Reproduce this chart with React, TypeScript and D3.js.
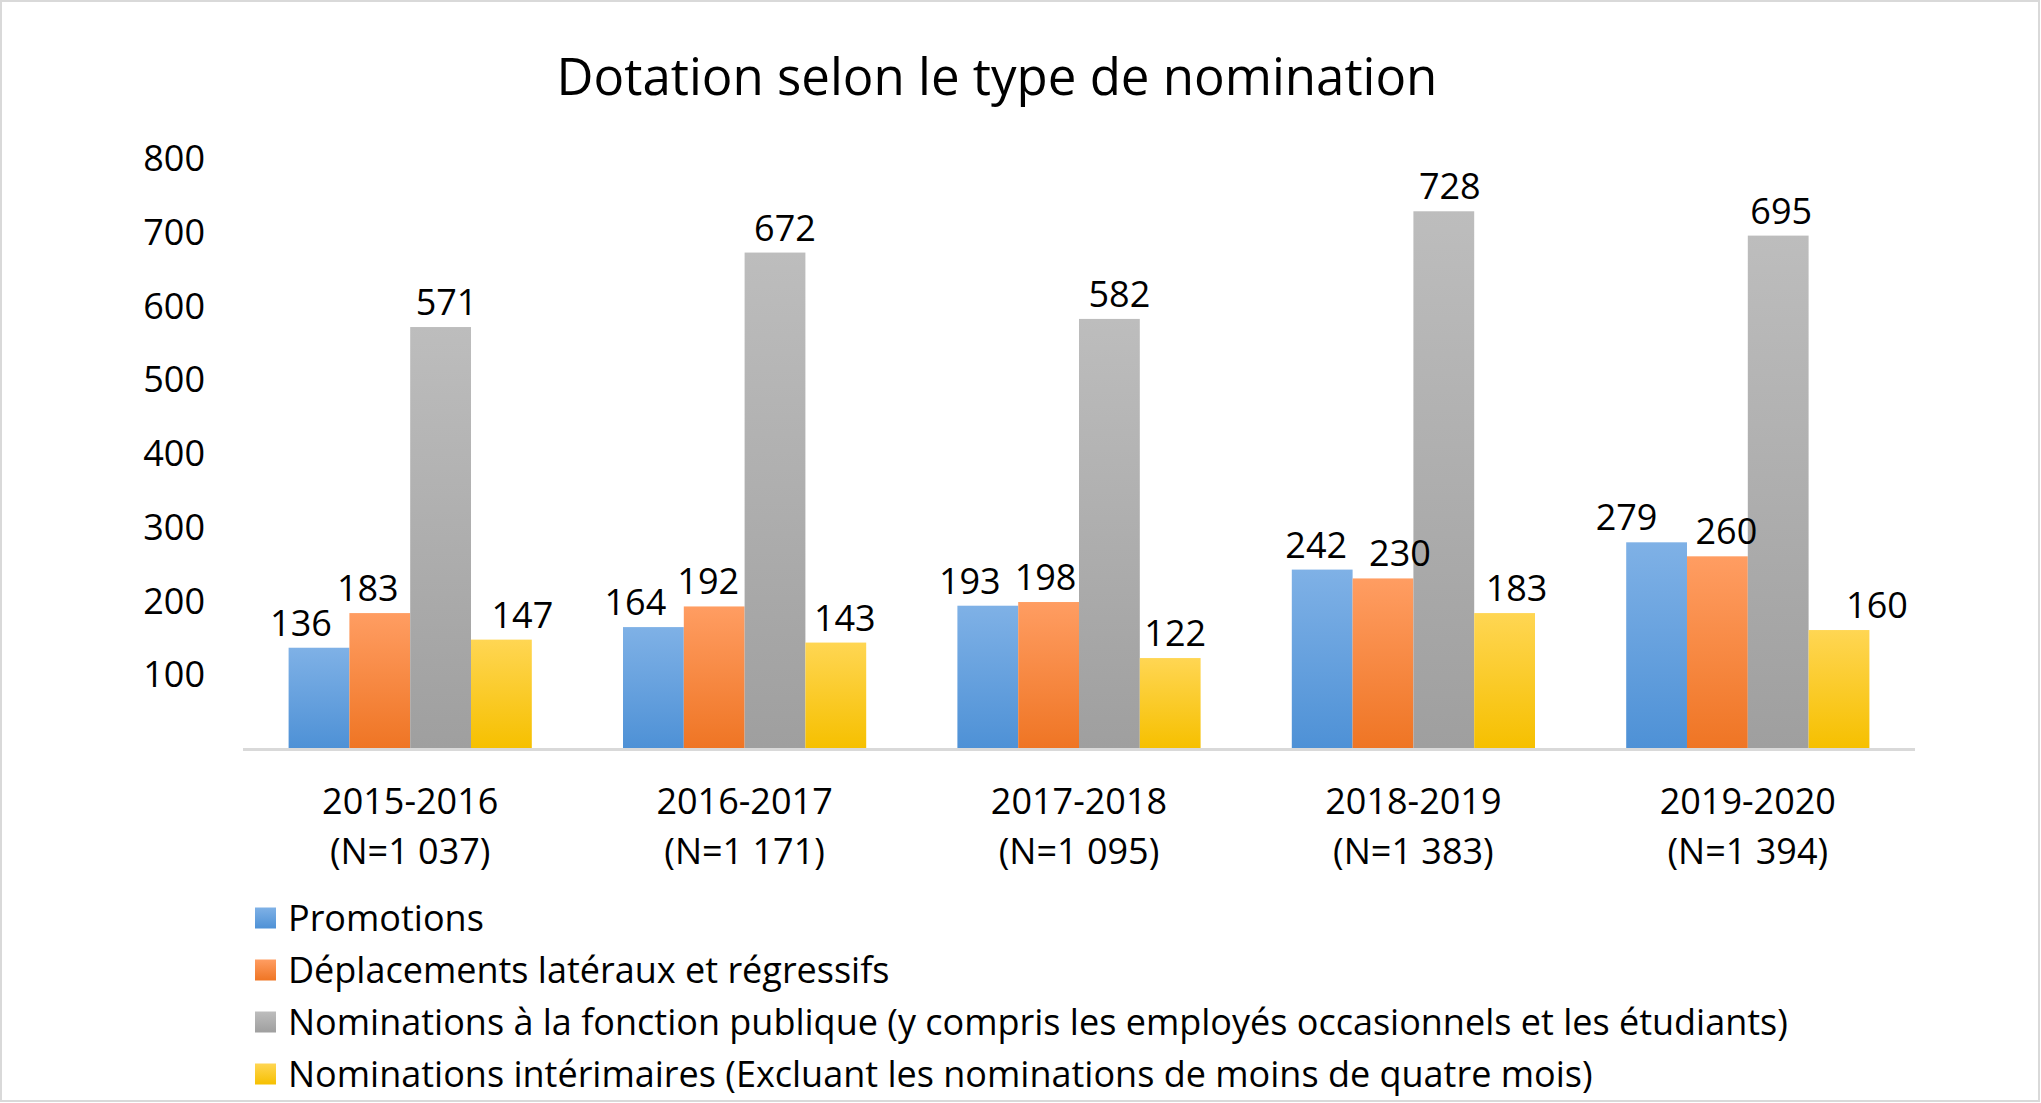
import React from "react";
import * as d3 from "d3";

const W = 2041;
const H = 1103;

const title = "Dotation selon le type de nomination";
const categories = ["2015-2016", "2016-2017", "2017-2018", "2018-2019", "2019-2020"];
const categoryTotals = ["(N=1 037)", "(N=1 171)", "(N=1 095)", "(N=1 383)", "(N=1 394)"];
const seriesNames = [
  "Promotions",
  "Déplacements latéraux et régressifs",
  "Nominations à la fonction publique (y compris les employés occasionnels et les étudiants)",
  "Nominations intérimaires (Excluant les nominations de moins de quatre mois)",
];
const promotions = [136, 164, 193, 242, 279];
const deplacements = [183, 192, 198, 230, 260];
const nominationsFP = [571, 672, 582, 728, 695];
const interimaires = [147, 143, 122, 183, 160];
const yTicks = [100, 200, 300, 400, 500, 600, 700, 800];

// layout-only nudges of data labels (px), per series then per category
const labelNudgeX = [
  [-18, -18, -18, -6, -30],
  [-12, -6, -3, 17, 9],
  [6, 10, 10, 6, 3],
  [21, 9, 5, 12, 38],
];

const gradients = [
  { top: "#7fb1e6", bottom: "#4e91d6" },
  { top: "#ff9d62", bottom: "#ef7524" },
  { top: "#bdbdbd", bottom: "#9f9f9f" },
  { top: "#ffd653", bottom: "#f6c000" },
];

const FONT = "'Open Sans', 'Segoe UI', sans-serif";
const FS = 36;

export default function App() {
  const series = [promotions, deplacements, nominationsFP, interimaires];
  const x0 = d3.scaleBand<string>().domain(categories).range([243, 1915]).paddingInner(0).paddingOuter(0);
  const bw = x0.bandwidth() / 5.5;
  const x1 = d3
    .scaleBand<number>()
    .domain(d3.range(series.length))
    .range([0, bw * 4]);
  const y = d3.scaleLinear().domain([0, 800]).range([748, 158.2]);

  const groupStart = (c: string) => (x0(c) as number) + (x0.bandwidth() - bw * 4) / 2;

  const cells = categories.flatMap((c, ci) =>
    series.map((s, si) => ({ c, ci, si, v: s[ci], bx: groupStart(c) + (x1(si) as number) }))
  );

  return (
    <svg
      width={W}
      height={H}
      style={{ position: "absolute", left: 0, top: 0, background: "#fff" }}
      fontFamily={FONT}
    >
      <defs>
        {gradients.map((g, i) => (
          <linearGradient key={i} id={`grad${i}`} x1="0" y1="0" x2="0" y2="1">
            <stop offset="0" stopColor={g.top} />
            <stop offset="1" stopColor={g.bottom} />
          </linearGradient>
        ))}
      </defs>
      <rect x={0} y={0} width={W} height={H} fill="#fff" />
      <rect x={1} y={1} width={W - 3} height={H - 3} fill="none" stroke="#d9d9d9" strokeWidth={2} />

      <text x={997} y={95} fontSize={51} textAnchor="middle" fill="#000">
        {title}
      </text>

      {yTicks.map((t) => (
        <text key={t} x={205} y={y(t)} dy="0.36em" fontSize={FS} textAnchor="end" fill="#000">
          {t}
        </text>
      ))}

      {cells.map(({ ci, si, v, bx }) => (
        <rect
          key={`b${ci}-${si}`}
          x={bx}
          y={y(v)}
          width={x1.bandwidth()}
          height={y(0) - y(v)}
          fill={`url(#grad${si})`}
        />
      ))}

      <line x1={243} x2={1915} y1={749.5} y2={749.5} stroke="#d9d9d9" strokeWidth={3} />

      {cells.map(({ ci, si, v, bx }) => (
        <text
          key={`l${ci}-${si}`}
          x={bx + x1.bandwidth() / 2 + labelNudgeX[si][ci]}
          y={y(v) - 12}
          fontSize={FS}
          textAnchor="middle"
          fill="#000"
        >
          {v}
        </text>
      ))}

      {categories.map((c, ci) => {
        const cx = (x0(c) as number) + x0.bandwidth() / 2;
        return (
          <g key={c}>
            <text x={cx} y={814} fontSize={FS} textAnchor="middle" fill="#000">
              {c}
            </text>
            <text x={cx} y={864} fontSize={FS} textAnchor="middle" fill="#000">
              {categoryTotals[ci]}
            </text>
          </g>
        );
      })}

      {seriesNames.map((n, i) => {
        const cy = 918 + i * 52;
        return (
          <g key={n}>
            <rect x={255} y={cy - 10.5} width={21} height={21} fill={`url(#grad${i})`} />
            <text x={288} y={cy} dy="0.36em" fontSize={FS} fill="#000">
              {n}
            </text>
          </g>
        );
      })}
    </svg>
  );
}
